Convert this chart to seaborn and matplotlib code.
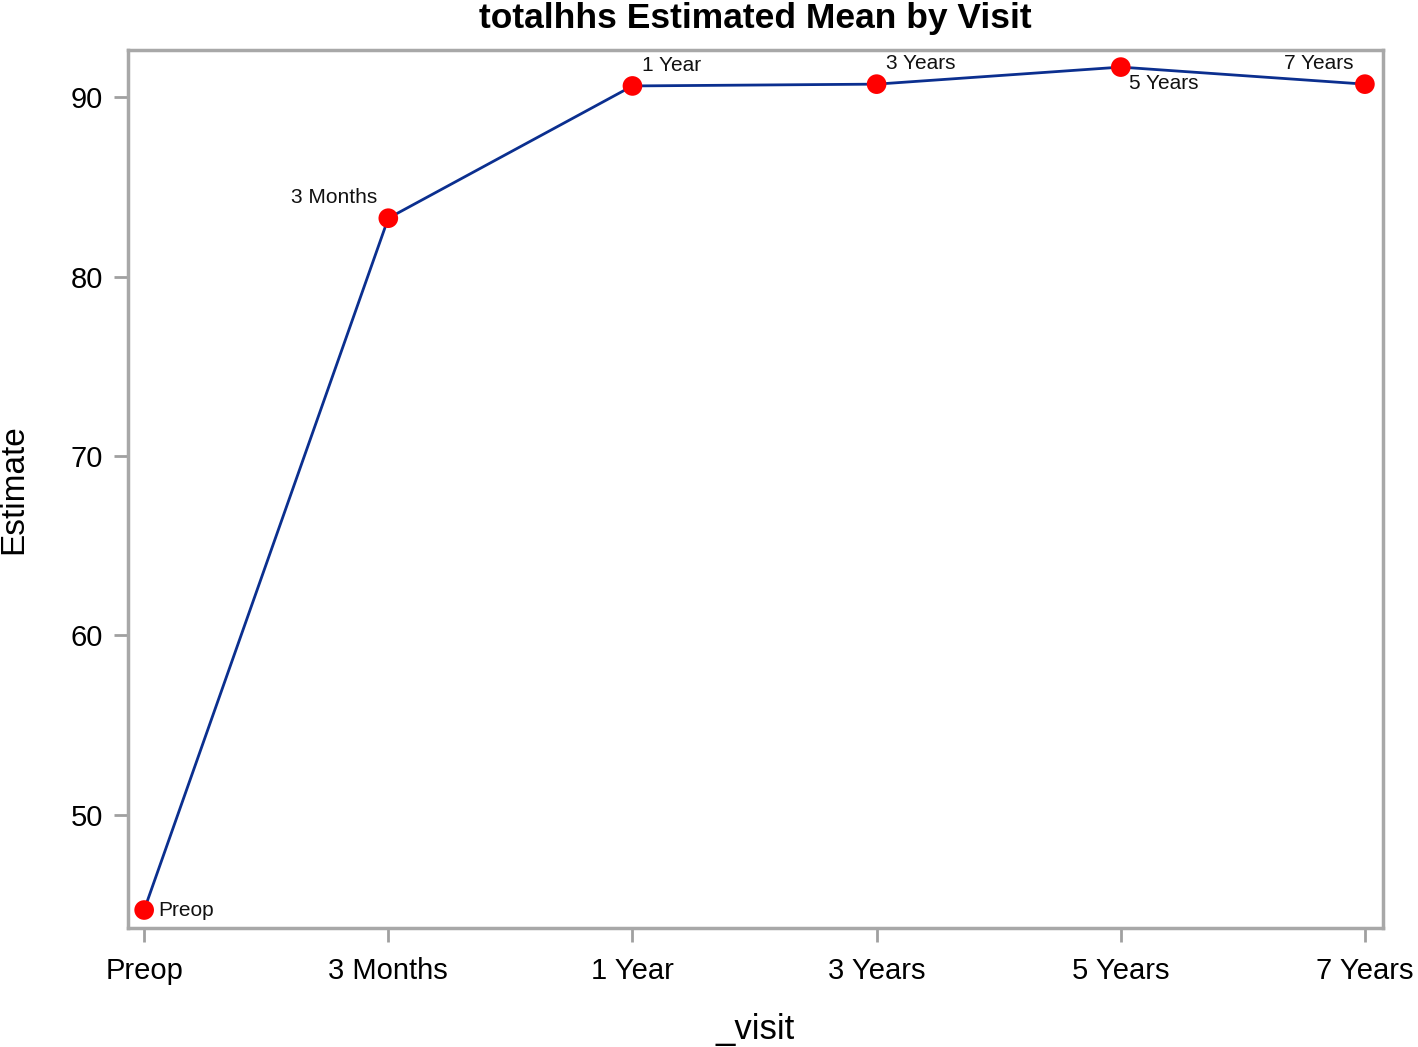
import pandas as pd
import matplotlib.pyplot as plt
import seaborn as sns

visits = ["Preop", "3 Months", "1 Year", "3 Years", "5 Years", "7 Years"]
estimates = [44.7, 83.25, 90.62, 90.72, 91.67, 90.72]
# where each point label sits relative to its marker
label_pos = ["right", "upper left", "upper right", "upper right", "lower right", "upper left"]

df = pd.DataFrame({"_visit": visits, "Estimate": estimates, "pos": label_pos})
df["x"] = range(len(df))

sns.set_style("white")
plt.rcParams['font.family'] = ['Liberation Sans', 'DejaVu Sans']
plt.rcParams['text.color'] = 'black'
plt.rcParams['axes.labelcolor'] = 'black'
plt.rcParams['xtick.labelcolor'] = 'black'
plt.rcParams['ytick.labelcolor'] = 'black'

fig = plt.figure(figsize=(14.18, 10.47), dpi=100)
ax = fig.add_axes([0.0903, 0.1137, 0.885, 0.8385])

sns.lineplot(data=df, x="x", y="Estimate", color="#0b2f8f", linewidth=2, ax=ax)
sns.scatterplot(data=df, x="x", y="Estimate", color="#ff0000", s=200, edgecolor="none", zorder=3, ax=ax)

offsets = {"right": (10, 0, "left", "center"),
           "upper left": (-8, 8, "right", "bottom"),
           "upper right": (7, 8, "left", "bottom"),
           "lower right": (6, -5, "left", "top")}
for _, r in df.iterrows():
    dx, dy, ha, va = offsets[r["pos"]]
    ax.annotate(r["_visit"], (r["x"], r["Estimate"]), xytext=(dx, dy), textcoords="offset points",
                ha=ha, va=va, fontsize=15, color="#111111")

ax.set_xlim(-0.066, 5.074)
ax.set_ylim(43.7, 92.62)
ax.set_xticks(df["x"])
ax.set_xticklabels(visits)
ax.set_yticks([50, 60, 70, 80, 90])
ax.tick_params(axis="both", labelsize=21, length=10, width=2, color="#a0a0a0", direction="out")
ax.tick_params(axis="x", pad=11)
ax.tick_params(axis="y", pad=8)
ax.tick_params(bottom=True, left=True)
for s in ax.spines.values():
    s.set_color("#a8a8a8")
    s.set_linewidth(2.5)

ax.set_xlabel("_visit", fontsize=25, labelpad=20)
ax.set_ylabel("Estimate", fontsize=24, labelpad=30)
ax.set_title("totalhhs Estimated Mean by Visit", fontsize=25.5, fontweight="bold", pad=16)

fig.savefig("out.png", dpi=100)
